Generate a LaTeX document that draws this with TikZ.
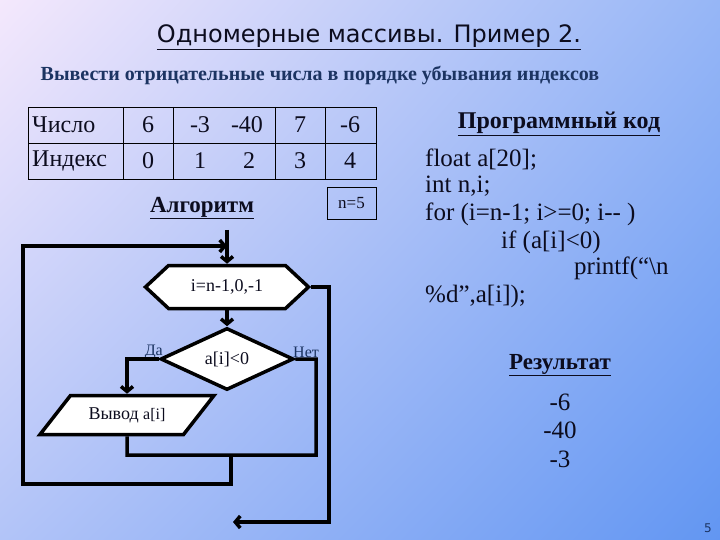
\documentclass[tikz,border=0pt]{standalone}
\usepackage{fontspec}
\setmainfont{Liberation Serif}
\newfontfamily\titlefont{DejaVu Sans}
\usetikzlibrary{shapes.geometric, arrows.meta, shapes.symbols, shadings}
\definecolor{slidenavy}{RGB}{28,52,98}
\definecolor{inkdark}{RGB}{12,12,30}
\definecolor{bgul}{RGB}{244,232,252}
\definecolor{bgur}{RGB}{150,182,246}
\definecolor{bgll}{RGB}{178,196,248}
\definecolor{bglr}{RGB}{98,150,242}

\begin{document}
\begin{tikzpicture}[x=1pt, y=-1pt, every node/.style={inner sep=0pt, text=inkdark},
    line/.style={line width=3.5pt},
    flow/.style={line, -{Straight Barb[length=5pt, width=12pt]}},
    block/.style={draw, line, fill=white, font=\fontsize{18}{20}\selectfont},
    cell/.style={font=\fontsize{24}{28}\selectfont},
    codeline/.style={anchor=base west, font=\fontsize{25}{28}\selectfont}]
    \useasboundingbox (0,0) rectangle (720,540);
    \shade[upper left=bgul, upper right=bgur, lower left=bgll, lower right=bglr] (0,0) rectangle (720,540);
    % headings
    \node (title) at (369,37) {\titlefont\fontsize{24}{28}\selectfont\underline{Одномерные массивы. Пример 2.}};
    \node[text=slidenavy] (task) at (320,76) {\fontsize{20}{24}\selectfont\bfseries Вывести отрицательные числа в порядке убывания индексов};
    % table
    \draw[line width=0.8pt] (28,107) rectangle (376,179);
    \draw[line width=0.8pt] (28,143) -- (376,143);
    \draw[line width=0.8pt] (123,107) -- (123,179) (173,107) -- (173,179) (275,107) -- (275,179) (325,107) -- (325,179);
    \node[cell, anchor=west] (num) at (32,125) {Число};
    \node[cell, anchor=west] (idx) at (32,161) {Индекс};
    \node[cell] (v0) at (148,125) {6};
    \node[cell] (v1) at (200,125) {-3};
    \node[cell] (v2) at (247,125) {-40};
    \node[cell] (v3) at (300,125) {7};
    \node[cell] (v4) at (350,125) {-6};
    \node[cell] (i0) at (148,161) {0};
    \node[cell] (i1) at (200,161) {1};
    \node[cell] (i2) at (249,161) {2};
    \node[cell] (i3) at (300,161) {3};
    \node[cell] (i4) at (350,161) {4};
    \node[draw, line width=0.8pt, minimum width=49pt, minimum height=32pt] (nbox) at (351.5,203) {\fontsize{17}{19}\selectfont n=5};
    \node[anchor=base] (alg) at (202,212) {\fontsize{23}{26}\selectfont\bfseries\underline{Алгоритм}};
    % flowchart
    \node[block, signal, signal to=west and east, signal pointer angle=86, minimum width=163pt, minimum height=43pt] (loop) at (227,287) {i=n-1,0,-1};
    \node[block, diamond, aspect=2, minimum width=133pt, minimum height=62pt] (cond) at (227,359) {a[i]<0};
    \node[block, trapezium, trapezium left angle=52, trapezium right angle=128, trapezium stretches body, inner ysep=11pt, text height=13pt, text depth=4pt, minimum width=174pt] (out) at (127,415) {Вывод {\fontsize{16}{18}\selectfont a[i]}};
    \node[text=slidenavy, anchor=south east] (yes) at (163,359) {\fontsize{16}{18}\selectfont Да};
    \node[text=slidenavy, anchor=south west] (no) at (293,358) {\fontsize{16}{18}\selectfont Нет};
    \coordinate (start) at (227,230);
    \coordinate (jl) at (127,455);
    \coordinate (jr) at (316,455);
    \coordinate (jm) at (231,455);
    \coordinate (lb1) at (231,484);
    \coordinate (lb2) at (23,246);
    \coordinate (lb3) at (227,246);
    \coordinate (ex1) at (329,522);
    \coordinate (ex2) at (233,522);
    \draw[flow] (start) -- (loop.north);
    \draw[flow] (loop.south) -- (cond.north);
    \draw[flow] (cond.west) -| (out.north);
    \draw[line] (out.south) -- (jl) -- (jr) |- (cond.east);
    \draw[flow] (jm) -- (lb1) -| (lb2) -- (lb3);
    \draw[flow] (loop.east) -| (ex1) -- (ex2);
    % program code
    \node[anchor=base] (code) at (559,129) {\fontsize{24}{28}\selectfont\bfseries\underline{Программный код}};
    \node[codeline] (c1) at (425,167) {float a[20];};
    \node[codeline] (c2) at (425,193) {int n,i;};
    \node[codeline] (c3) at (425,221) {for (i=n-1; i>=0; i-{}- )};
    \node[codeline] (c4) at (501,248) {if (a[i]<0)};
    \node[codeline] (c5) at (574,274) {printf(“\textbackslash n};
    \node[codeline] (c6) at (425,302) {\%d”,a[i]);};
    % result
    \node[anchor=base] (res) at (560,369) {\fontsize{23}{26}\selectfont\bfseries\underline{Результат}};
    \node[anchor=base] (r1) at (560,410) {\fontsize{25}{28}\selectfont -6};
    \node[anchor=base] (r2) at (560,438) {\fontsize{25}{28}\selectfont -40};
    \node[anchor=base] (r3) at (560,467) {\fontsize{25}{28}\selectfont -3};
    \node[text=slidenavy] (page) at (708,528) {\titlefont\fontsize{12}{14}\selectfont 5};
\end{tikzpicture}
\end{document}
